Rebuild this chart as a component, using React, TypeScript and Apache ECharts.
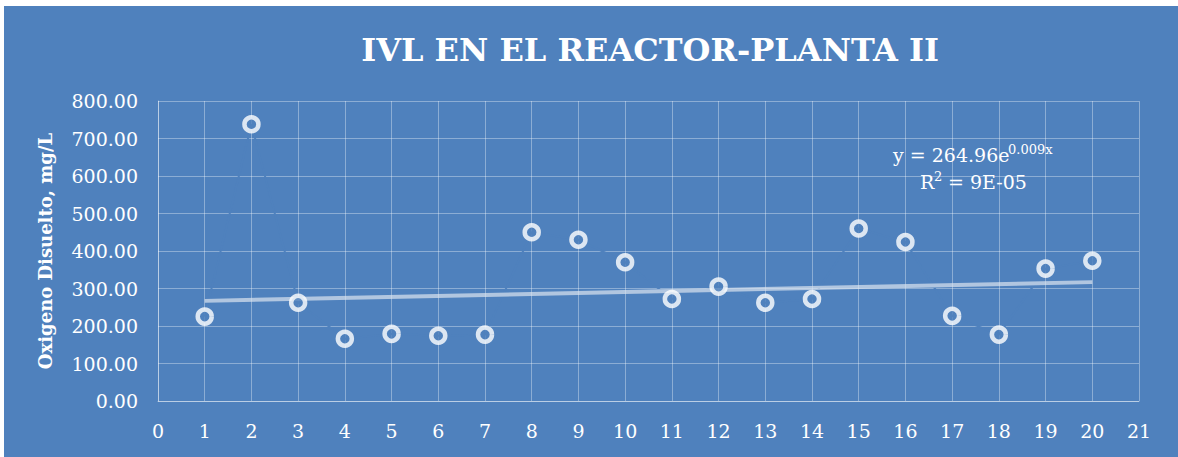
import React, { useEffect, useRef } from "react";
import * as echarts from "echarts";

const xValues = [1, 2, 3, 4, 5, 6, 7, 8, 9, 10, 11, 12, 13, 14, 15, 16, 17, 18, 19, 20];
const ivlValues = [225, 738, 262, 166, 179, 174, 177, 450, 430, 370, 272, 305, 262, 272, 460, 424, 227, 177, 353, 374];
const trendX = [1, 20];
const trendY = [267, 317];
const titleText = "IVL EN EL REACTOR-PLANTA II";
const yAxisTitle = "Oxigeno Disuelto, mg/L";
const eqLine1 = "y = 264.96e";
const eqSup = "0.009x";
const r2Main = "R";
const r2Sup = "2";
const r2Rest = " = 9E-05";

const BG = "#4F81BD";
const FONT = "'DejaVu Serif', 'Liberation Serif', serif";

export default function App() {
  const ref = useRef<HTMLDivElement>(null);
  useEffect(() => {
    if (!ref.current) return;
    const chart = echarts.init(ref.current, null, { renderer: "svg" });
    const points = xValues.map((x, i) => [x, ivlValues[i]]);
    const trend = trendX.map((x, i) => [x, trendY[i]]);
    chart.setOption({
      animation: false,
      backgroundColor: "#ffffff",
      grid: { left: 158, right: 39, top: 101, bottom: 56 },
      xAxis: {
        type: "value",
        min: 0,
        max: 21,
        interval: 1,
        axisLine: { show: true, lineStyle: { color: "rgba(255,255,255,0.4)", width: 1 } },
        axisTick: { show: false },
        splitLine: { show: true, lineStyle: { color: "rgba(255,255,255,0.35)", width: 1 } },
        axisLabel: { color: "#ffffff", fontFamily: FONT, fontSize: 19, margin: 20 },
      },
      yAxis: {
        type: "value",
        min: 0,
        max: 800,
        interval: 100,
        name: yAxisTitle,
        nameLocation: "middle",
        nameGap: 104,
        nameTextStyle: { color: "#ffffff", fontFamily: FONT, fontSize: 18, fontWeight: "bold" },
        axisLine: { show: true, lineStyle: { color: "rgba(255,255,255,0.4)", width: 1 } },
        axisTick: { show: false },
        splitLine: { show: true, lineStyle: { color: "rgba(255,255,255,0.35)", width: 1 } },
        axisLabel: {
          color: "#ffffff",
          fontFamily: FONT,
          fontSize: 19,
          margin: 20,
          formatter: (v: number) => v.toFixed(2),
        },
      },
      graphic: [
        {
          type: "rect",
          z: -10,
          silent: true,
          shape: { x: 4, y: 6, width: 1174, height: 451 },
          style: { fill: BG },
        },
        {
          type: "text",
          x: 650,
          y: 50,
          style: {
            text: titleText,
            fill: "#ffffff",
            font: "bold 32px " + FONT,
            align: "center",
            verticalAlign: "middle",
          },
        },
        {
          type: "text",
          x: 893,
          y: 155,
          style: { text: eqLine1, fill: "#ffffff", font: "19px " + FONT, align: "left", verticalAlign: "middle" },
        },
        {
          type: "text",
          x: 1008,
          y: 149,
          style: { text: eqSup, fill: "#ffffff", font: "13px " + FONT, align: "left", verticalAlign: "middle" },
        },
        {
          type: "text",
          x: 920,
          y: 182,
          style: { text: r2Main, fill: "#ffffff", font: "19px " + FONT, align: "left", verticalAlign: "middle" },
        },
        {
          type: "text",
          x: 934,
          y: 176,
          style: { text: r2Sup, fill: "#ffffff", font: "13px " + FONT, align: "left", verticalAlign: "middle" },
        },
        {
          type: "text",
          x: 942,
          y: 182,
          style: { text: r2Rest, fill: "#ffffff", font: "19px " + FONT, align: "left", verticalAlign: "middle" },
        },
      ],
      series: [
        {
          type: "line",
          data: points,
          symbol: "none",
          z: 1,
          lineStyle: { color: BG, width: 2 },
          silent: true,
        },
        {
          type: "line",
          data: trend,
          symbol: "none",
          z: 2,
          lineStyle: { color: "rgba(220,228,240,0.7)", width: 4 },
          silent: true,
        },
        {
          type: "scatter",
          data: points,
          symbol: "circle",
          symbolSize: 14,
          z: 3,
          itemStyle: { color: BG, borderColor: "#ffffff", borderWidth: 4.5 },
        },
      ],
    });
    return () => chart.dispose();
  }, []);
  return <div ref={ref} style={{ position: "fixed", left: 0, top: 0, width: 1178, height: 457 }} />;
}
